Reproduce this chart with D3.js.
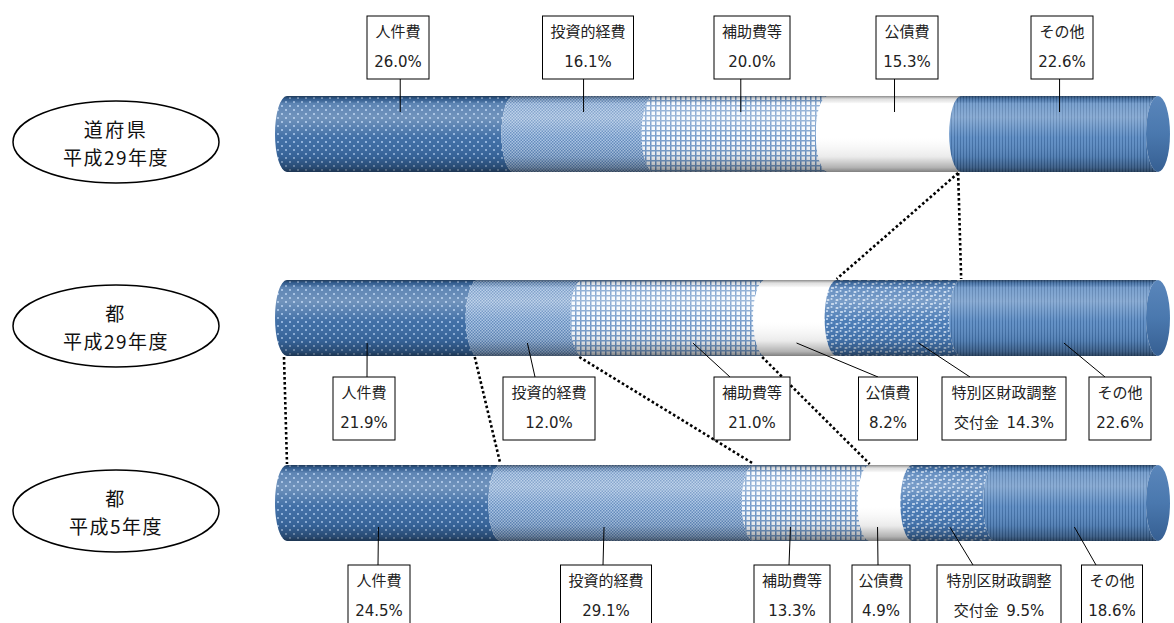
<!DOCTYPE html>
<html><head><meta charset="utf-8">
<script src="https://cdn.jsdelivr.net/npm/d3@7"></script>
<style>
html,body{margin:0;padding:0;background:#fff;}
svg{display:block;}
text{font-family:"DejaVu Sans","Noto Sans CJK JP",sans-serif;}
</style></head>
<body>
<svg id="chart" width="1174" height="623"></svg>
<script>
// ---- data ----
const rowTitleTop = ["道府県", "都", "都"];
const rowTitleBottom = ["平成29年度", "平成29年度", "平成5年度"];
const categories = ["人件費", "投資的経費", "補助費等", "公債費", "特別区財政調整交付金", "その他"];
const doufukenH29 = [26.0, 16.1, 20.0, 15.3, 0, 22.6];
const tokyoH29 = [21.9, 12.0, 21.0, 8.2, 14.3, 22.6];
const tokyoH5 = [24.5, 29.1, 13.3, 4.9, 9.5, 18.6];
const series = [doufukenH29, tokyoH29, tokyoH5];

// ---- layout (not data) ----
const rowCenterY = [134, 318, 503];
const barH = 76;
const capRx = 12;
const boxH = 63;
const labelLayout = [
  { boxY: 16, centers: [398, 588, 752, 907, null, 1062], widths: [62, 91, 76, 62, 0, 62],
    anchorPct: null, anchorY: 112, endX: null, above: true },
  { boxY: 377, centers: [364, 549, 752, 888, 1004, 1120], widths: [62, 92, 76, 59, 124, 62],
    anchorPct: [9.2, 27.6, 46.6, 58.5, 72.5, 89.2], anchorY: 343, endX: [367, 535, 730, 878, 970, 1105], above: false },
  { boxY: 565, centers: [379, 606, 792, 881, 999, 1112], widths: [62, 91, 76, 58, 124, 61],
    anchorPct: [10.5, 36.4, 57.8, 67.8, 76.1, 90.4], anchorY: 527, endX: [378, 603, 789, 878, 973, 1096], above: false }
];

const svg = d3.select("#chart");
const defs = svg.append("defs");

const x = d3.scaleLinear().domain([0, 100]).range([287, 1158]);

// ---- patterns ----
function pat(id, w, h) {
  return defs.append("pattern").attr("id", id).attr("patternUnits", "userSpaceOnUse")
    .attr("width", w).attr("height", h);
}
let p;
p = pat("p0", 8, 8);
p.append("rect").attr("width", 8).attr("height", 8).attr("fill", "#3a6aa3");
[[2, 2], [6, 6]].forEach(([cx, cy]) => p.append("circle").attr("cx", cx).attr("cy", cy).attr("r", 1.0).attr("fill", "#a9c8ee"));

p = pat("p1", 3, 3);
p.append("rect").attr("width", 3).attr("height", 3).attr("fill", "#a9c4e4");
p.append("rect").attr("width", 1.5).attr("height", 1.5).attr("fill", "#5f88bc");
p.append("rect").attr("x", 1.5).attr("y", 1.5).attr("width", 1.5).attr("height", 1.5).attr("fill", "#5f88bc");

p = pat("p2", 5, 5);
p.append("rect").attr("width", 5).attr("height", 5).attr("fill", "#f6f9fd");
p.append("rect").attr("width", 1.5).attr("height", 5).attr("fill", "#6a93c5");
p.append("rect").attr("width", 5).attr("height", 1.5).attr("fill", "#7aa0cd");

p = pat("p3", 4, 4);
p.append("rect").attr("width", 4).attr("height", 4).attr("fill", "#ffffff");

p = pat("p4", 9, 8);
p.append("rect").attr("width", 9).attr("height", 8).attr("fill", "#d3e2f3");
[[0, 0], [9, 0], [0, 8], [9, 8], [4.5, 4]].forEach(([cx, cy]) => {
  p.append("circle").attr("cx", cx).attr("cy", cy).attr("r", 3.3).attr("fill", "#4577b3");
  p.append("circle").attr("cx", cx - 1).attr("cy", cy - 1).attr("r", 1.1).attr("fill", "#b4cff0");
});

p = pat("p5", 3, 3);
p.append("rect").attr("width", 3).attr("height", 3).attr("fill", "#5e8dc4");
p.append("rect").attr("width", 1).attr("height", 3).attr("fill", "#416fa6");

// shading gradient
const g = defs.append("linearGradient").attr("id", "shade").attr("x1", 0).attr("y1", 0).attr("x2", 0).attr("y2", 1);
[[0, "#000", 0.45], [0.04, "#000", 0.12], [0.1, "#fff", 0.18], [0.28, "#fff", 0.28], [0.55, "#fff", 0.04],
 [0.8, "#000", 0.08], [0.94, "#000", 0.3], [1, "#000", 0.5]].forEach(([o, c, a]) =>
  g.append("stop").attr("offset", o).attr("stop-color", c).attr("stop-opacity", a));

const gf = defs.append("linearGradient").attr("id", "face").attr("x1", 0).attr("y1", 0).attr("x2", 0).attr("y2", 1);
[[0, "#5a86bb"], [0.5, "#4a78ae"], [1, "#365f92"]].forEach(([o, c]) =>
  gf.append("stop").attr("offset", o).attr("stop-color", c));

// ---- bars ----
function segPath(a, b, yT, yB) {
  const ry = (yB - yT) / 2;
  return `M${a},${yT} A${capRx},${ry} 0 0 0 ${a},${yB} L${b},${yB} A${capRx},${ry} 0 0 1 ${b},${yT} Z`;
}

const cums = series.map(vals => {
  const c = [0];
  vals.forEach(v => c.push(c[c.length - 1] + v));
  return c;
});

series.forEach((vals, r) => {
  const yT = rowCenterY[r] - barH / 2, yB = rowCenterY[r] + barH / 2;
  const grp = svg.append("g");
  const c = cums[r];
  const segs = vals.map((v, i) => ({ i, v, a: c[i], b: c[i + 1] })).filter(d => d.v > 0);
  const lastIdx = segs[segs.length - 1].i;
  grp.selectAll("path.seg").data(segs).enter().append("path")
    .attr("class", "seg")
    .attr("d", d => segPath(x(d.a), d.i === lastIdx ? x(100) : x(d.b), yT, yB))
    .attr("fill", d => `url(#p${d.i})`);
  grp.append("path")
    .attr("d", segPath(x(0), x(100), yT, yB))
    .attr("fill", "url(#shade)");
  grp.append("ellipse")
    .attr("cx", x(100)).attr("cy", rowCenterY[r])
    .attr("rx", capRx).attr("ry", barH / 2)
    .attr("fill", "url(#face)");
});

// ---- dotted connectors ----
const connectors = [
  { from: 0, to: 1, fi: 4, ti: 4 },
  { from: 0, to: 1, fi: 4, ti: 5 },
  { from: 1, to: 2, fi: 0, ti: 0 },
  { from: 1, to: 2, fi: 1, ti: 1 },
  { from: 1, to: 2, fi: 2, ti: 2 },
  { from: 1, to: 2, fi: 3, ti: 3 }
];
svg.append("g").selectAll("line").data(connectors).enter().append("line")
  .attr("x1", d => x(cums[d.from][d.fi]) - 3)
  .attr("y1", d => rowCenterY[d.from] + barH / 2 + 1)
  .attr("x2", d => x(cums[d.to][d.ti]))
  .attr("y2", d => rowCenterY[d.to] - barH / 2 - 1)
  .attr("stroke", "#000").attr("stroke-width", 2.6)
  .attr("stroke-dasharray", "2.6,2.4");

// ---- labels ----
series.forEach((vals, r) => {
  const L = labelLayout[r];
  const c = cums[r];
  const grp = svg.append("g");
  vals.forEach((v, i) => {
    if (v <= 0) return;
    const cx = L.centers[i], w = L.widths[i];
    const ax = L.anchorPct ? x(L.anchorPct[i]) : x((c[i] + c[i + 1]) / 2);
    if (L.above) {
      grp.append("line").attr("x1", ax).attr("y1", L.boxY + boxH).attr("x2", ax).attr("y2", L.anchorY)
        .attr("stroke", "#000").attr("stroke-width", 1);
    } else {
      grp.append("line").attr("x1", ax).attr("y1", L.anchorY).attr("x2", L.endX[i]).attr("y2", L.boxY)
        .attr("stroke", "#000").attr("stroke-width", 1);
    }
    grp.append("rect").attr("x", cx - w / 2).attr("y", L.boxY).attr("width", w).attr("height", boxH)
      .attr("fill", "#fff").attr("stroke", "#000").attr("stroke-width", 1);
    const name = categories[i];
    let line1, line2;
    if (name === "特別区財政調整交付金") {
      line1 = "特別区財政調整";
      line2 = "交付金\u2002" + v.toFixed(1) + "%";
    } else {
      line1 = name;
      line2 = v.toFixed(1) + "%";
    }
    grp.append("text").attr("x", cx).attr("y", L.boxY + 16).attr("text-anchor", "middle")
      .attr("dominant-baseline", "central").attr("font-size", 15).attr("fill", "#222").text(line1);
    grp.append("text").attr("x", cx).attr("y", L.boxY + 46).attr("text-anchor", "middle")
      .attr("dominant-baseline", "central").attr("font-size", 15).attr("fill", "#222").text(line2);
  });
});

// ---- row title ellipses ----
rowTitleTop.forEach((t, r) => {
  const cy = rowCenterY[r] + 8;
  const grp = svg.append("g");
  grp.append("ellipse").attr("cx", 116).attr("cy", cy).attr("rx", 103).attr("ry", 41)
    .attr("fill", "#fff").attr("stroke", "#000").attr("stroke-width", 1.5);
  grp.append("text").attr("x", 116).attr("y", cy - 14).attr("text-anchor", "middle")
    .attr("dominant-baseline", "central").attr("font-size", 19).style("letter-spacing", "2.5px")
    .style("font-family", "'Noto Sans CJK JP', sans-serif").attr("fill", "#111").text(t);
  grp.append("text").attr("x", 116).attr("y", cy + 14).attr("text-anchor", "middle")
    .attr("dominant-baseline", "central").attr("font-size", 19).style("letter-spacing", "1.5px")
    .style("font-family", "'Noto Sans CJK JP', sans-serif").attr("fill", "#111").text(rowTitleBottom[r]);
});
</script>
</body></html>
